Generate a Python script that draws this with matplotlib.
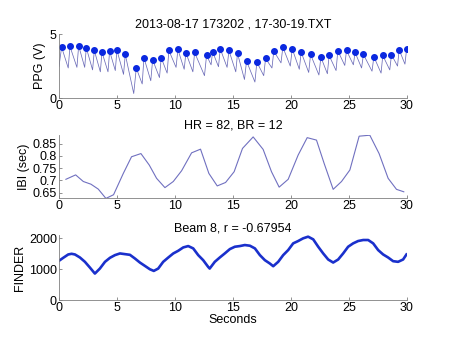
import matplotlib.pyplot as plt
import numpy as np

plt.rcParams['font.family'] = ['Liberation Sans', 'DejaVu Sans']
plt.rcParams['font.size'] = 9

# PPG beat peaks (s, V)
peak_t = [0.23, 0.95, 1.70, 2.36, 3.05, 3.71, 4.37, 5.00, 5.72, 6.67,
          7.33, 8.08, 8.82, 9.48, 10.26, 10.95, 11.70, 12.73, 13.25, 13.91,
          14.66, 15.40, 16.18, 17.07, 17.82, 18.53, 19.31, 20.12, 20.89, 21.70,
          22.59, 23.30, 24.05, 24.80, 25.54, 26.26, 27.16, 27.93, 28.68, 29.34,
          29.98]
peak_v = [3.98, 4.04, 4.09, 3.93, 3.72, 3.59, 3.67, 3.75, 3.41, 2.34,
          3.15, 2.99, 3.15, 3.72, 3.80, 3.54, 3.57, 3.33, 3.62, 3.85,
          3.72, 3.49, 2.89, 2.81, 3.10, 3.67, 3.98, 3.85, 3.59, 3.41,
          3.20, 3.33, 3.70, 3.72, 3.57, 3.41, 3.23, 3.33, 3.39, 3.78,
          3.80]
# PPG troughs, one before each peak (s, V)
trough_t = [0.00, 0.80, 1.55, 2.22, 2.90, 3.57, 4.23, 4.86, 5.57, 6.45,
            7.18, 7.92, 8.67, 9.33, 10.10, 10.80, 11.55, 12.55, 13.12, 13.76,
            14.50, 15.25, 16.00, 16.90, 17.66, 18.37, 19.15, 19.95, 20.73, 21.54,
            22.42, 23.15, 23.90, 24.65, 25.39, 26.10, 27.00, 27.78, 28.53, 29.20,
            29.84]
trough_v = [2.45, 2.35, 2.40, 2.40, 2.20, 2.05, 2.05, 2.15, 1.85, 0.35,
            1.10, 1.35, 1.60, 1.95, 2.40, 2.25, 2.05, 1.75, 2.60, 2.45,
            2.40, 2.05, 1.45, 1.25, 1.75, 2.35, 2.75, 2.50, 2.25, 2.00,
            1.80, 1.90, 2.15, 2.55, 2.60, 2.35, 2.10, 1.95, 2.20, 2.50,
            2.65]

# inter-beat intervals
ibi_t = [0.60, 1.44, 2.10, 2.76, 3.39, 4.05, 4.71, 5.55, 6.26, 7.07,
         7.79, 8.42, 9.14, 9.86, 10.58, 11.44, 12.21, 12.93, 13.65, 14.37,
         15.11, 15.83, 16.75, 17.61, 18.33, 18.99, 19.77, 20.63, 21.41, 22.21,
         22.87, 23.65, 24.37, 25.09, 25.89, 26.81, 27.61, 28.39, 29.11, 29.74]
ibi_v = [0.704, 0.722, 0.695, 0.684, 0.664, 0.626, 0.641, 0.728, 0.796, 0.809,
         0.762, 0.708, 0.670, 0.695, 0.739, 0.812, 0.827, 0.728, 0.677, 0.691,
         0.735, 0.830, 0.877, 0.826, 0.735, 0.672, 0.704, 0.803, 0.874, 0.864,
         0.769, 0.663, 0.695, 0.742, 0.880, 0.884, 0.809, 0.708, 0.663, 0.653]

# FINDER beam 8 signal
finder_t = [0.00, 0.37, 0.80, 1.09, 1.38, 1.81, 2.24, 2.67, 3.10, 3.53,
            3.97, 4.40, 4.83, 5.26, 5.69, 6.12, 6.55, 6.98, 7.41, 7.84,
            8.18, 8.56, 8.99, 9.43, 9.86, 10.29, 10.72, 11.15, 11.58, 12.01,
            12.44, 12.87, 13.00, 13.44, 13.87, 14.30, 14.74, 15.17, 15.60, 16.03,
            16.47, 16.90, 17.33, 17.76, 18.19, 18.48, 18.91, 19.34, 19.77, 20.20,
            20.63, 21.06, 21.49, 21.93, 22.36, 22.79, 23.22, 23.65, 24.08, 24.51,
            24.94, 25.37, 25.80, 26.24, 26.67, 27.10, 27.53, 27.96, 28.39, 28.82,
            29.25, 29.68, 29.97]
finder_v = [1272, 1370, 1478, 1500, 1478, 1380, 1240, 1054, 860, 1022,
            1240, 1370, 1457, 1511, 1489, 1467, 1348, 1217, 1109, 1000,
            946, 1022, 1240, 1380, 1511, 1598, 1706, 1750, 1674, 1457,
            1293, 1076, 1022, 1240, 1380, 1511, 1652, 1728, 1750, 1783,
            1761, 1674, 1457, 1293, 1185, 1098, 1240, 1457, 1620, 1837,
            1913, 2000, 2054, 1967, 1728, 1511, 1315, 1217, 1315, 1511,
            1728, 1837, 1913, 1946, 1946, 1837, 1620, 1478, 1380, 1261,
            1240, 1315, 1478]

# interleave troughs and peaks into one waveform
ppg_t = np.ravel(np.column_stack([trough_t, peak_t]))
ppg_v = np.ravel(np.column_stack([trough_v, peak_v]))

fig = plt.figure(figsize=(4.5, 3.38), dpi=100)
ax1 = fig.add_axes([0.131, 0.710, 0.773, 0.189])
ax2 = fig.add_axes([0.131, 0.413, 0.773, 0.187])
ax3 = fig.add_axes([0.131, 0.112, 0.773, 0.192])

ax1.plot(ppg_t, ppg_v, color='#6c6cb8', lw=0.55)
ax1.plot(peak_t, peak_v, 'o', color='#0a28e0', ms=4.0, mec='#0a28e0')
ax1.set_ylim(0, 5)
ax1.set_yticks([0, 5])
ax1.set_ylabel('PPG (V)', labelpad=3)
ax1.set_title('2013-08-17 173202 , 17-30-19.TXT', fontsize=9, pad=5)

ax2.plot(ibi_t, ibi_v, color='#7070c0', lw=0.8)
ax2.set_ylim(min(ibi_v), max(ibi_v))
ax2.set_yticks([0.65, 0.7, 0.75, 0.8, 0.85])
ax2.set_yticklabels(['0.65', '0.7', '0.75', '0.8', '0.85'])
ax2.set_ylabel('IBI (sec)', labelpad=2)
ax2.set_title('HR = 82, BR = 12', fontsize=9, pad=5)

ax3.plot(finder_t, finder_v, color='#1a30cc', lw=1.9)
ax3.set_ylim(0, 2100)
ax3.set_yticks([0, 1000, 2000])
ax3.set_ylabel('FINDER', labelpad=2)
ax3.set_xlabel('Seconds', labelpad=0)
ax3.set_title('Beam 8, r = -0.67954', fontsize=9, pad=3)

for ax in (ax1, ax2, ax3):
    ax.set_xlim(0, 30)
    ax.set_xticks(range(0, 31, 5))
    for side in ('top', 'right'):
        ax.spines[side].set_visible(False)
    for side in ('left', 'bottom'):
        ax.spines[side].set_color('#808080')
        ax.spines[side].set_linewidth(0.6)
    ax.tick_params(direction='in', length=2.5, width=0.6, color='#808080',
                   labelsize=9, pad=1.5)

fig.savefig('out.png', dpi=100)
